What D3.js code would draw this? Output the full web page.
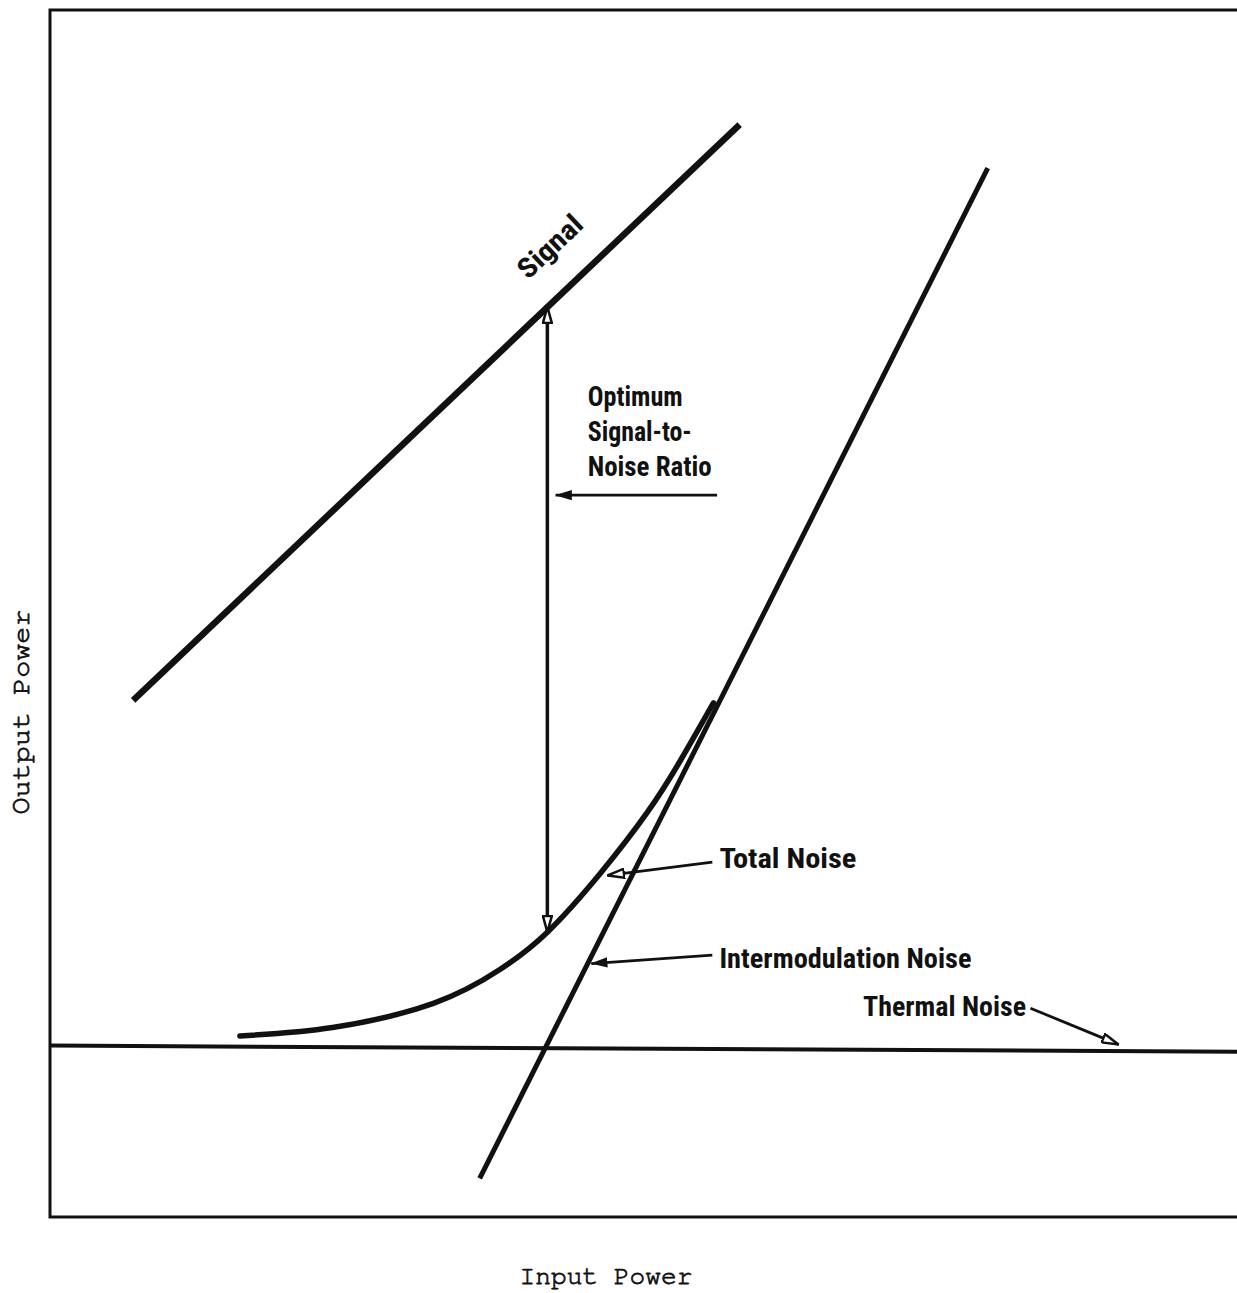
<!DOCTYPE html>
<html>
<head>
<meta charset="utf-8">
<script src="https://cdn.jsdelivr.net/npm/d3@7"></script>
<style>
  body { margin: 0; background: #fff; }
  .lbl { font-family: "Liberation Sans Narrow", "Arial Narrow", "Roboto Condensed", sans-serif; font-size: 28px; font-weight: bold; fill: #111; }
  .axlbl { font-family: "Nimbus Mono PS", "FreeMono", "Courier New", "Liberation Mono", monospace; font-size: 27px; fill: #111; stroke: #111; stroke-width: 0.8px; }
</style>
</head>
<body>
<div id="chart"></div>
<script>
// curves (input power / output power, arbitrary units 0..100)
var signalX = [7.0, 58.1];
var signalY = [42.8, 90.5];

var imX = [36.2, 79.0];
var imY = [3.2, 86.9];

var thermalX = [0, 100];
var thermalY = [14.2, 13.7];

var totalX = [16.0, 23.8, 32.3, 37.9, 41.9, 46.3, 50.3, 53.1, 55.9];
var totalY = [15.0, 15.7, 17.7, 20.5, 23.6, 28.4, 33.5, 37.8, 42.6];

// optimum S/N double arrow
var snrX = 41.9;
var snrY = [23.6, 75.4];

// labels
var snrLines = ["Optimum", "Signal-to-", "Noise Ratio"];
var pointerLabels = ["Total Noise", "Intermodulation Noise", "Thermal Noise"];
var xTitle = "Input Power";
var yTitle = "Output Power";

function chart() {
  var w = 1237;
  var h = 1293;

  var x = d3.scaleLinear().domain([0, 100]).range([50, 1237]);
  var y = d3.scaleLinear().domain([0, 100]).range([1217, 10]);

  var svg = d3.select("#chart")
              .append("svg")
              .attr("width", w)
              .attr("height", h);

  var defs = svg.append("defs");
  // open (hollow) arrow head
  defs.append("marker")
      .attr("id", "open")
      .attr("viewBox", "0 0 20 12")
      .attr("refX", 19).attr("refY", 6)
      .attr("markerUnits", "userSpaceOnUse")
      .attr("markerWidth", 18).attr("markerHeight", 11)
      .attr("orient", "auto-start-reverse")
      .append("path")
      .attr("d", "M1,1 L19,6 L1,11 Z")
      .attr("fill", "#fff").attr("stroke", "#111").attr("stroke-width", 2.8);
  // solid arrow head
  defs.append("marker")
      .attr("id", "solid")
      .attr("viewBox", "0 0 20 12")
      .attr("refX", 19).attr("refY", 6)
      .attr("markerUnits", "userSpaceOnUse")
      .attr("markerWidth", 17).attr("markerHeight", 11)
      .attr("orient", "auto")
      .append("path")
      .attr("d", "M0,0 L20,6 L0,12 Z")
      .attr("fill", "#111");

  // frame (left, top, bottom)
  svg.append("path")
     .attr("d", "M" + x(100) + "," + y(100) + " L" + x(0) + "," + y(100) +
                " L" + x(0) + "," + y(0) + " L" + x(100) + "," + y(0))
     .attr("fill", "none").attr("stroke", "#111").attr("stroke-width", 3);

  var line = d3.line()
               .x(function(d) { return x(d[0]); })
               .y(function(d) { return y(d[1]); });

  var smooth = d3.line()
                 .x(function(d) { return x(d[0]); })
                 .y(function(d) { return y(d[1]); })
                 .curve(d3.curveNatural);

  function pts(xs, ys) { return xs.map(function(v, i) { return [v, ys[i]]; }); }

  // thermal noise
  svg.append("path").attr("d", line(pts(thermalX, thermalY)))
     .attr("fill", "none").attr("stroke", "#111").attr("stroke-width", 4);

  // signal
  svg.append("path").attr("d", line(pts(signalX, signalY)))
     .attr("fill", "none").attr("stroke", "#111").attr("stroke-width", 6.5);

  // intermodulation noise
  svg.append("path").attr("d", line(pts(imX, imY)))
     .attr("fill", "none").attr("stroke", "#111").attr("stroke-width", 5);

  // total noise
  svg.append("path").attr("d", smooth(pts(totalX, totalY)))
     .attr("fill", "none").attr("stroke", "#111").attr("stroke-width", 5.5)
     .attr("stroke-linecap", "round");

  // optimum S/N double arrow
  svg.append("line")
     .attr("x1", x(snrX)).attr("y1", y(snrY[1]))
     .attr("x2", x(snrX)).attr("y2", y(snrY[0]))
     .attr("stroke", "#111").attr("stroke-width", 3.5)
     .attr("marker-start", "url(#open)")
     .attr("marker-end", "url(#open)");

  // "Signal" label along the line
  var ang = Math.atan2(y(signalY[1]) - y(signalY[0]), x(signalX[1]) - x(signalX[0])) * 180 / Math.PI;
  svg.append("text").attr("class", "lbl")
     .attr("transform", "translate(" + x(40.3) + "," + y(77.6) + ") rotate(" + ang + ")")
     .attr("textLength", 78).attr("lengthAdjust", "spacingAndGlyphs")
     .text("Signal");

  // S/N text block
  var snrBase = [67.2, 64.3, 61.4];
  var snrLen = [95, 104, 124];
  svg.selectAll(".snr")
     .data(snrLines)
     .enter()
     .append("text")
     .attr("class", "lbl snr")
     .attr("x", x(45.3))
     .attr("y", function(d, i) { return y(snrBase[i]); })
     .attr("textLength", function(d, i) { return snrLen[i]; })
     .attr("lengthAdjust", "spacingAndGlyphs")
     .text(function(d) { return d; });

  // pointer arrows: [x1, y1, x2, y2, marker]
  var pointers = [
    [56.2, 59.8, 42.6, 59.8, "solid"],
    [55.8, 29.4, 47.0, 28.3, "open"],
    [55.8, 21.7, 45.6, 21.0, "solid"],
    [82.6, 17.3, 90.0, 14.3, "open"]
  ];
  svg.selectAll(".ptr")
     .data(pointers)
     .enter()
     .append("line")
     .attr("class", "ptr")
     .attr("x1", function(d) { return x(d[0]); })
     .attr("y1", function(d) { return y(d[1]); })
     .attr("x2", function(d) { return x(d[2]); })
     .attr("y2", function(d) { return y(d[3]); })
     .attr("stroke", "#111").attr("stroke-width", 2.8)
     .attr("marker-end", function(d) { return "url(#" + d[4] + ")"; });

  // pointer labels
  var plX = [56.4, 56.4, 68.5];
  var plY = [28.9, 20.6, 16.65];
  var plLen = [137, 252, 163];
  svg.selectAll(".pl")
     .data(pointerLabels)
     .enter()
     .append("text")
     .attr("class", "lbl pl")
     .attr("x", function(d, i) { return x(plX[i]); })
     .attr("y", function(d, i) { return y(plY[i]); })
     .attr("textLength", function(d, i) { return plLen[i]; })
     .attr("lengthAdjust", "spacingAndGlyphs")
     .text(function(d) { return d; });

  // axis titles
  svg.append("text").attr("class", "axlbl")
     .attr("x", 606).attr("y", 1284)
     .attr("text-anchor", "middle")
     .attr("textLength", 173).attr("lengthAdjust", "spacingAndGlyphs")
     .text(xTitle);

  svg.append("text").attr("class", "axlbl")
     .attr("transform", "translate(29,712) rotate(-90)")
     .attr("text-anchor", "middle")
     .attr("textLength", 205).attr("lengthAdjust", "spacingAndGlyphs")
     .text(yTitle);
}

window.onload = function() {
  chart();
};
</script>
</body>
</html>
